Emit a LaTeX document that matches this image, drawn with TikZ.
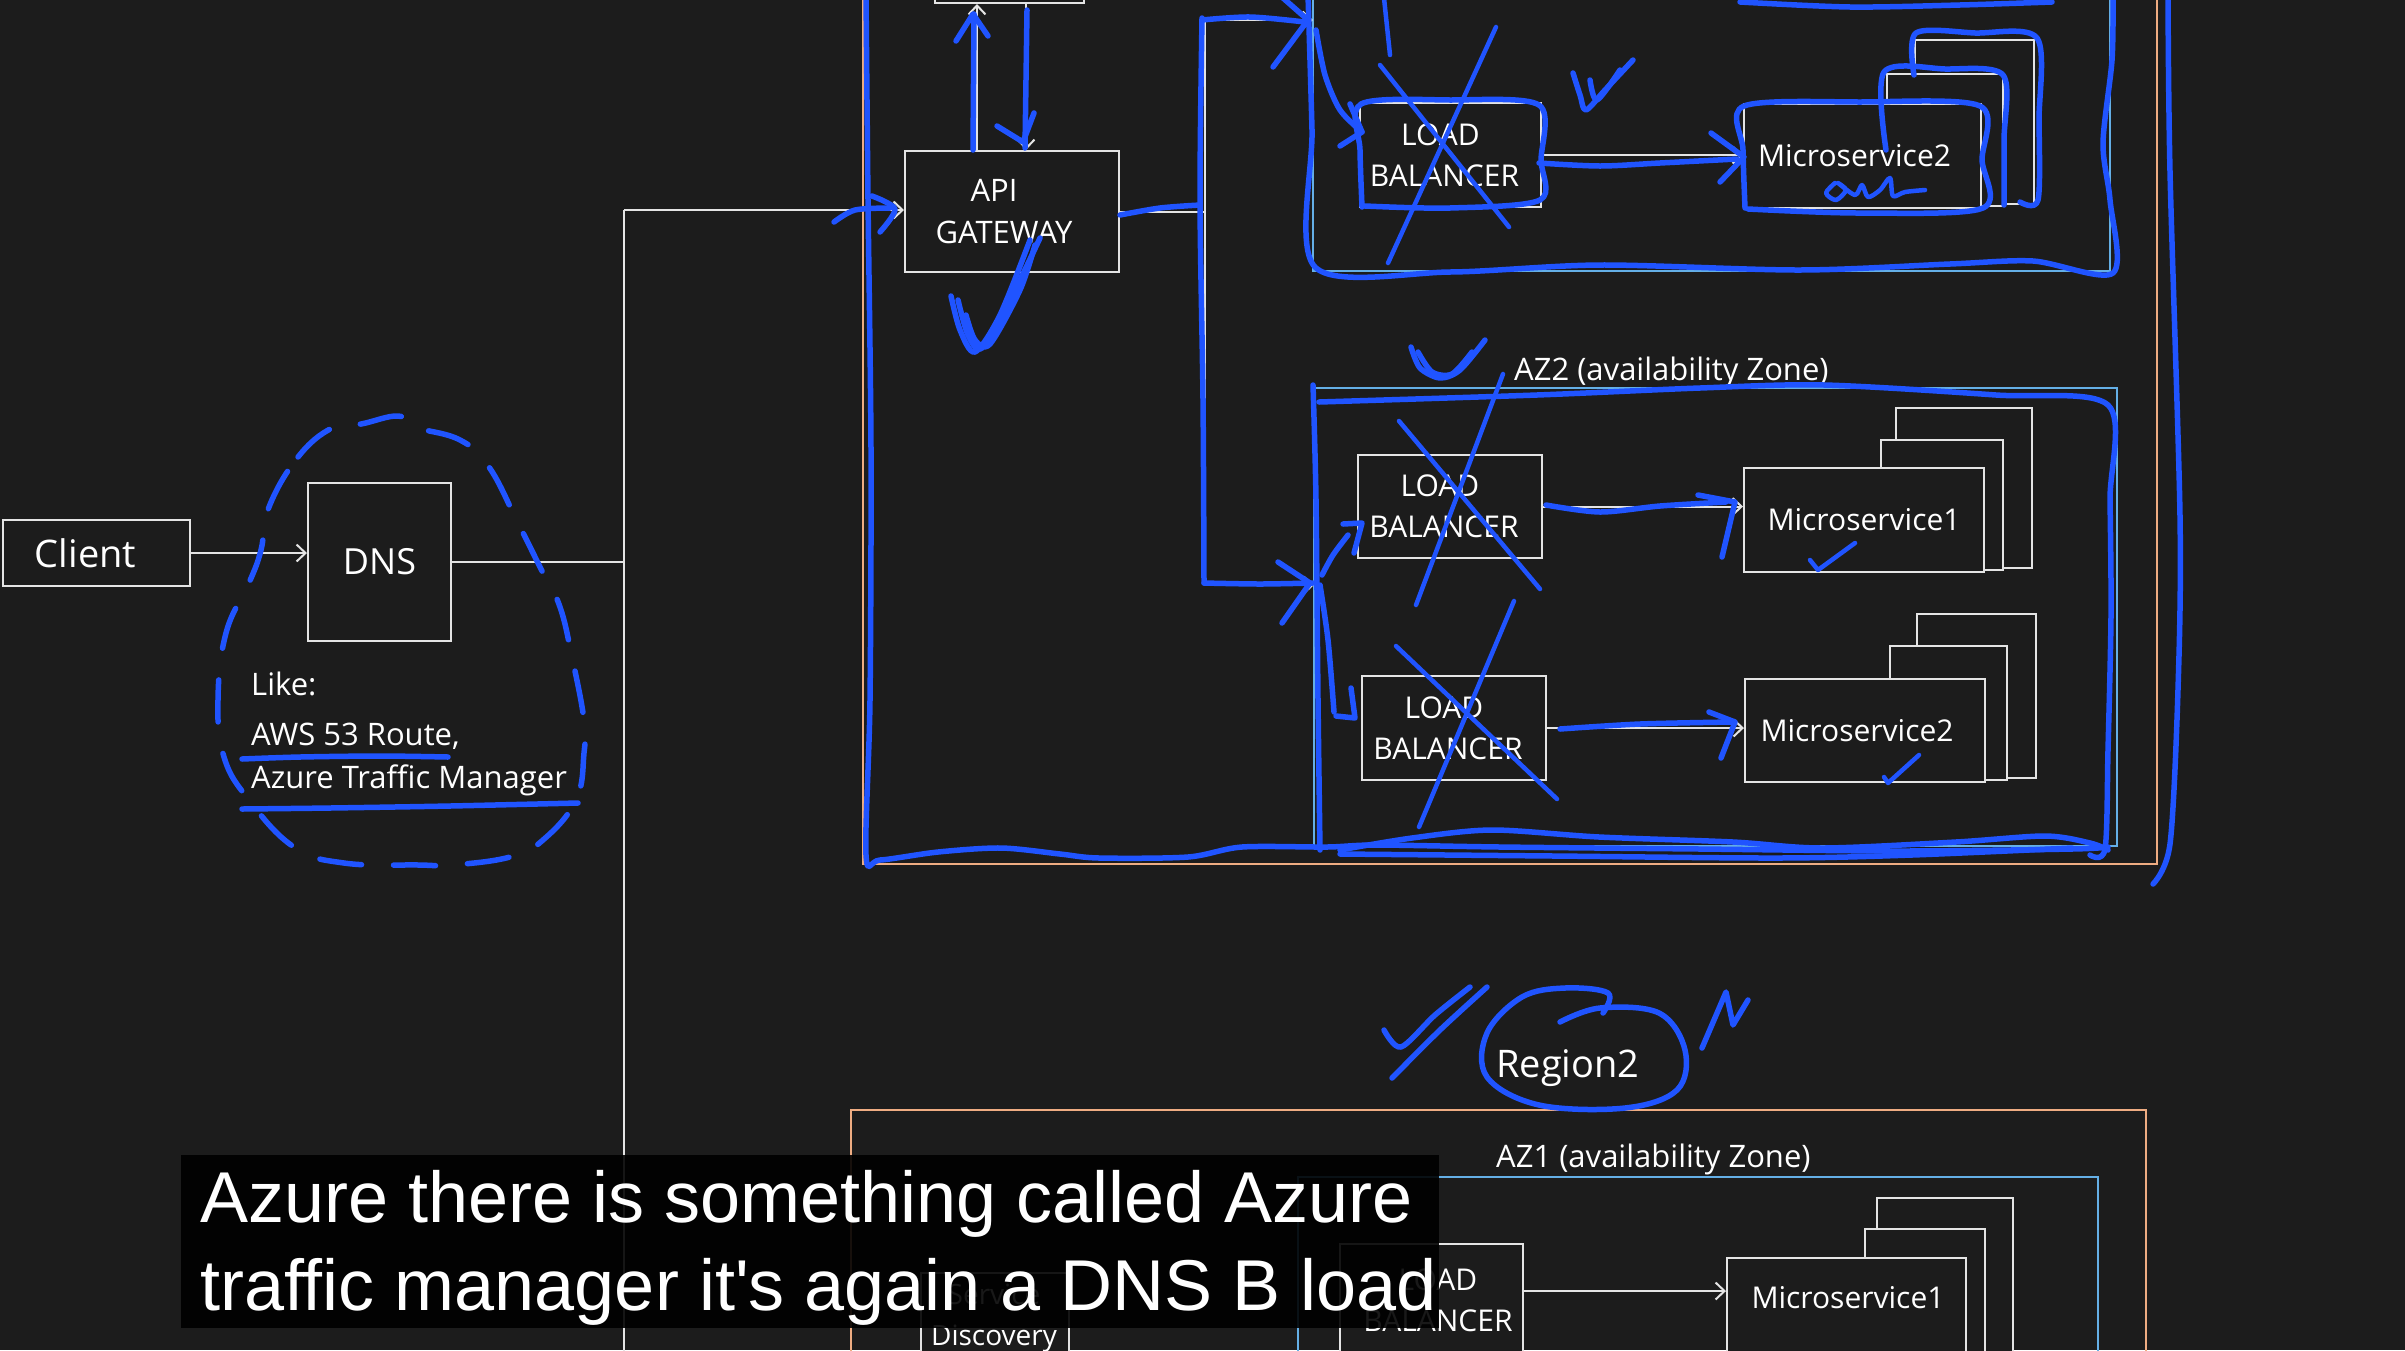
\documentclass[tikz,border=0pt]{standalone}
\usepackage{fontspec}
\setmainfont{Open Sans}
\newfontfamily\subfont{Liberation Sans}
\usetikzlibrary{arrows.meta}
\definecolor{bgc}{RGB}{28,28,28}
\definecolor{wht}{RGB}{228,228,228}
\definecolor{orng}{RGB}{238,172,130}
\definecolor{azb}{RGB}{100,175,230}
\definecolor{pen}{RGB}{32,84,255}
\begin{document}
\begin{tikzpicture}[x=1pt,y=-1pt,
  box/.style={draw=wht, line width=2pt, fill=bgc, text=white, inner sep=0pt, align=center, font=\fontsize{30}{41}\selectfont},
  wline/.style={draw=wht, line width=2pt},
  arr/.style={wline, -{Straight Barb[length=9pt,width=17pt]}},
  penl/.style={draw=pen, line width=5.5pt, line cap=round, line join=round},
  penthin/.style={draw=pen, line width=4.5pt, line cap=round, line join=round},
  lbl/.style={text=white, inner sep=0pt, font=\fontsize{31}{40}\selectfont},
  orframe/.style={draw=orng, line width=2.5pt},
  azframe/.style={draw=azb, line width=2pt}
]
\useasboundingbox (0,0) rectangle (2405,1350);
\clip (0,0) rectangle (2405,1350);
\fill[bgc] (0,0) rectangle (2405,1350);

% frames
\draw[orframe] (863,-60) rectangle (2157,864);
\draw[azframe] (1313,-60) rectangle (2110,271);
\draw[azframe] (1314,388) rectangle (2117,846);
\draw[orframe] (851,1110) rectangle (2146,1420);
\draw[azframe] (1298,1177) rectangle (2098,1420);

% left part
\node[box, minimum width=187pt, minimum height=66pt, font=\fontsize{38}{40}\selectfont] (client) at (96.5,553) {Client\hspace*{22pt}};
\node[box, minimum width=143pt, minimum height=158pt, font=\fontsize{36}{40}\selectfont] (dns) at (379.5,562) {DNS};
\node[lbl, anchor=base west] (like) at (251,695) {Like:};
\node[lbl, anchor=base west] (aws) at (251,745) {AWS 53 Route,};
\node[lbl, anchor=base west] (atm) at (251,788) {Azure Traffic Manager};

% region 1
\node[box, minimum width=149pt, minimum height=63pt] (top) at (1009.5,-28.5) {};
\node[box, minimum width=214pt, minimum height=121pt, font=\fontsize{31}{42}\selectfont] (gw) at (1012,211.5) {API\hspace*{36pt}\\GATEWAY\hspace*{16pt}};

\node[box, minimum width=181pt, minimum height=104pt] (lbA) at (1450.5,155) {LOAD\hspace*{20pt}\\BALANCER\hspace*{12pt}};
\node[box, minimum width=119pt, minimum height=164pt] (msAb) at (1974.5,122) {};
\node[box, minimum width=116pt, minimum height=132pt] (msAm) at (1945,140) {};
\node[box, minimum width=237pt, minimum height=104pt] (msA) at (1862.5,156) {Microservice2\hspace*{16pt}};

\node[lbl, anchor=base west] (az2l) at (1514,380) {AZ2 (availability Zone)};
\node[box, minimum width=184pt, minimum height=103pt] (lbB) at (1450,506.5) {LOAD\hspace*{20pt}\\BALANCER\hspace*{12pt}};
\node[box, minimum width=136pt, minimum height=160pt] (msBb) at (1964,488) {};
\node[box, minimum width=122pt, minimum height=130pt] (msBm) at (1942,505) {};
\node[box, minimum width=240pt, minimum height=104pt] (msB) at (1864,520) {Microservice1};

\node[box, minimum width=184pt, minimum height=104pt] (lbC) at (1454,728) {LOAD\hspace*{20pt}\\BALANCER\hspace*{12pt}};
\node[box, minimum width=119pt, minimum height=164pt] (msCb) at (1976.5,696) {};
\node[box, minimum width=117pt, minimum height=134pt] (msCm) at (1948.5,713) {};
\node[box, minimum width=240pt, minimum height=103pt] (msC) at (1865,730.5) {Microservice2\hspace*{16pt}};

% region 2
\node[lbl, anchor=base west, font=\fontsize{38}{40}\selectfont] (reg2) at (1496,1077) {Region2};
\node[lbl, anchor=base west] (az1l) at (1496,1167) {AZ1 (availability Zone)};
\node[box, minimum width=148pt, minimum height=160pt, anchor=north west] (sd) at (920,1272) {};
\node[lbl, align=center, font=\fontsize{28}{41}\selectfont] (sdt) at (994,1318) {Service\\Discovery};
\node[box, minimum width=183pt, minimum height=177pt, anchor=north west] (lbD) at (1339,1243) {};
\node[lbl, align=center, font=\fontsize{30}{41}\selectfont] (lbDt) at (1438,1300) {LOAD\\BALANCER};
\node[box, minimum width=136pt, minimum height=220pt, anchor=north west] (msDb) at (1876,1197) {};
\node[box, minimum width=120pt, minimum height=200pt, anchor=north west] (msDm) at (1864,1228) {};
\node[box, minimum width=239pt, minimum height=170pt, anchor=north west] (msD) at (1726,1257) {};
\node[lbl, font=\fontsize{30}{40}\selectfont] (msDt) at (1848,1298) {Microservice1};

% connectors
\coordinate (j1) at (624,563);
\coordinate (j2) at (624,210);
\coordinate (j3) at (624,1360);
\coordinate (k1) at (1205,20);
\coordinate (k2) at (1205,585);
\coordinate (az1w) at (1313,20);
\coordinate (az2w) at (1314,585);
\draw[arr] (client.east) -- (client.east -| dns.west);
\draw[wline] (dns.east) -- (dns.east -| j1);
\draw[wline] (j2) -- (j3);
\draw[arr] (j2) -- (j2 -| gw.west);
\draw[arr] ([xshift=-35pt]gw.north) -- ([xshift=-35pt]gw.north |- top.south);
\draw[arr] ([xshift=14pt]gw.north |- top.south) -- ([xshift=14pt]gw.north);
\draw[wline] (gw.east) -- (gw.east -| k1);
\draw[wline] (k1) -- (k2);
\draw[arr] (k1) -- (az1w);
\draw[arr] (k2) -- (az2w);
\draw[arr] (lbA.east) -- (lbA.east -| msA.west);
\draw[arr] (lbB.east) -- (lbB.east -| msB.west);
\draw[arr] (lbC.east) -- (lbC.east -| msC.west);
\coordinate (d1) at (1522,1291);
\draw[arr] (d1) -- (d1 -| msD.west);

% ===== blue pen annotations =====
% DNS loop
\draw[penl, dash pattern=on 42pt off 32pt] plot[smooth cycle, tension=0.7] coordinates {(269,507) (298,457) (332,428) (361,424) (398,416) (414,427) (460,440) (489,467) (518,523) (543,573) (560,607) (572,657) (584,720) (584,753) (576,800) (543,840) (510,857) (452,865) (419,865) (344,863) (294,847) (249,800) (224,757) (218,700) (226,633) (249,583) (261,550)};
\draw[penl] plot[smooth] coordinates {(242,759) (300,757) (380,756) (448,757)};
\draw[penl] plot[smooth] coordinates {(242,809) (330,808) (450,806) (578,803)};

% region 1 outline
\draw[penl] plot[smooth] coordinates {(866,-5) (868,200) (871,450) (870,700) (866,855) (880,860) (938,852) (1001,848) (1060,854) (1099,858) (1188,857) (1242,847) (1327,847) (1376,845) (1500,847) (1700,849) (1900,851) (2072,849) (2108,847)};
\draw[penl] plot[smooth] coordinates {(1340,850) (1412,838) (1492,830) (1599,837) (1733,842) (1822,848) (1956,842) (2045,836) (2090,843) (2108,850)};
\draw[penl] plot[smooth] coordinates {(1340,854) (1554,856) (1778,858) (1912,855) (2072,848)};
\draw[penl] plot[smooth] coordinates {(1313,385) (1316,500) (1318,700) (1320,850)};
\draw[penl] plot[smooth] coordinates {(1319,402) (1537,395) (1700,388) (1824,385) (1996,395) (2108,405) (2110,500) (2111,615) (2108,750) (2105,849) (2090,855)};
\draw[penl] plot[smooth] coordinates {(2168,-5) (2170,172) (2180,517) (2178,689) (2170,844) (2153,884)};
\draw[penl] plot[smooth] coordinates {(1308,-5) (1312,130) (1315,267) (1450,272) (1600,265) (1800,270) (1950,264) (2033,261) (2113,273) (2110,200) (2103,143) (2112,60) (2113,-5)};
\draw[penl] plot[smooth] coordinates {(1740,2) (1850,7) (1960,5) (2052,2)};

% AZ1 contents redrawn
\draw[penl] plot[smooth] coordinates {(1362,207) (1360,150) (1361,104) (1450,100) (1539,105) (1541,160) (1540,200) (1450,208) (1365,206)};
\draw[penl] plot[smooth] coordinates {(1745,208) (1743,150) (1744,106) (1860,102) (1980,106) (1982,160) (1983,208) (1860,213) (1748,209)};
\draw[penl] plot[smooth] coordinates {(1886,150) (1884,72) (1945,69) (2003,75) (2004,140) (2004,205)};
\draw[penl] plot[smooth] coordinates {(1914,75) (1916,33) (1975,33) (2037,38) (2039,120) (2038,200) (2020,202)};
\draw[penl] (1273,67) -- (1308,20) -- (1283,-2);
\draw[penl] plot[smooth] coordinates {(1316,30) (1325,75) (1340,110) (1362,132)};
\draw[penl] (1340,146) -- (1362,132) -- (1350,104);
\draw[penthin] (1380,65) -- (1509,227);
\draw[penthin] (1496,27) -- (1388,263);
\draw[penthin] (1384,-2) -- (1390,55);
\draw[penl] plot[smooth] coordinates {(1539,163) (1600,166) (1660,163) (1737,159)};
\draw[penl] (1711,133) -- (1744,157) -- (1720,182);
\draw[penl] plot[smooth] coordinates {(1573,73) (1580,95) (1586,110) (1605,90) (1633,60)};
\draw[penl] plot[smooth] coordinates {(1590,80) (1597,100) (1620,70)};
\draw[penthin] plot[smooth] coordinates {(1835,183) (1826,193) (1836,200) (1846,190) (1838,183) (1855,195) (1862,185) (1868,197) (1880,190) (1890,178) (1893,196) (1905,192) (1925,190)};

% gateway area
\draw[penl] plot[smooth] coordinates {(834,222) (855,210) (890,208)};
\draw[penl] plot[smooth] coordinates {(872,196) (895,209) (880,232)};
\draw[penl] (973,150) -- (974,14);
\draw[penl] (956,41) -- (973,14) -- (988,36);
\draw[penl] (1027,10) -- (1025,148);
\draw[penl] (997,126) -- (1023,142) -- (1034,113);
\draw[penl] plot[smooth] coordinates {(951,296) (960,330) (975,352) (1000,315) (1030,240)};
\draw[penl] plot[smooth] coordinates {(958,300) (968,335) (982,348) (1010,300) (1040,238)};
\draw[penl] plot[smooth] coordinates {(966,315) (975,340) (990,344) (1020,290) (1035,245)};
\draw[penl] plot[smooth] coordinates {(1120,215) (1160,208) (1200,205)};
\draw[penl] plot[smooth] coordinates {(1202,18) (1200,200) (1203,400) (1204,583)};
\draw[penl] plot[smooth] coordinates {(1202,20) (1250,17) (1305,22)};
\draw[penl] plot[smooth] coordinates {(1204,583) (1260,584) (1313,583)};
\draw[penl] (1278,562) -- (1310,583) -- (1282,623);
\draw[penl] plot[smooth] coordinates {(1322,575) (1333,555) (1348,535)};
\draw[penl] (1343,524) -- (1362,523) -- (1354,553);
\draw[penl] plot[smooth] coordinates {(1320,585) (1328,640) (1334,712)};
\draw[penl] (1336,716) -- (1355,718) -- (1351,688);

% AZ2 marks
\draw[penthin] (1399,421) -- (1540,589);
\draw[penthin] (1503,374) -- (1416,605);
\draw[penthin] (1396,646) -- (1557,799);
\draw[penthin] (1514,601) -- (1419,827);
\draw[penl] plot[smooth] coordinates {(1546,505) (1600,512) (1660,506) (1726,502)};
\draw[penl] (1698,495) -- (1735,502) -- (1722,557);
\draw[penl] plot[smooth] coordinates {(1560,729) (1640,724) (1732,722)};
\draw[penl] (1709,712) -- (1735,722) -- (1721,758);
\draw[penthin] (1810,560) -- (1818,570) -- (1855,543);
\draw[penthin] (1884,777) -- (1888,783) -- (1919,755);
\draw[penl] plot[smooth] coordinates {(1411,347) (1420,368) (1440,378) (1460,370) (1485,340)};
\draw[penl] plot[smooth] coordinates {(1418,352) (1432,372) (1452,374) (1472,352)};

% region 2 marks
\draw[penl] plot[smooth, tension=0.6] coordinates {(1560,1022) (1600,1008) (1659,1013) (1685,1050) (1677,1090) (1625,1108) (1539,1105) (1487,1077) (1487,1033) (1522,997) (1565,988) (1608,993) (1603,1013)};
\draw[penl] plot[smooth] coordinates {(1384,1030) (1401,1047) (1435,1015) (1470,987)};
\draw[penl] plot[smooth] coordinates {(1392,1078) (1440,1030) (1487,987)};
\draw[penl] (1702,1048) -- (1726,992) -- (1733,1025) -- (1748,1000);

% subtitle
\fill[black, opacity=0.9] (181,1155) rectangle (1439,1328);
\node[anchor=base west, inner sep=0pt, text=white, font=\subfont\fontsize{72}{80}\selectfont] (sub1) at (200,1222) {Azure there is something called Azure};
\node[anchor=base west, inner sep=0pt, text=white, font=\subfont\fontsize{72}{80}\selectfont] (sub2) at (200,1310) {traffic manager it\textquotesingle s again a DNS B load};
\end{tikzpicture}
\end{document}
